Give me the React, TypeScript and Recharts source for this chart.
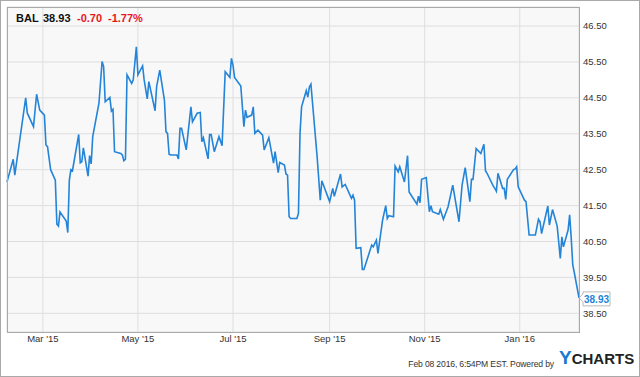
import React from "react";
import {
  LineChart,
  Line,
  XAxis,
  YAxis,
  CartesianGrid,
  LabelList,
} from "recharts";

// BAL daily close (Feb 2015 - Feb 2016)
const dates = [
  "2015-02-06", "2015-02-10", "2015-02-11", "2015-02-18", "2015-02-19", "2015-02-23",
  "2015-02-25", "2015-02-27", "2015-03-02", "2015-03-03", "2015-03-04", "2015-03-06",
  "2015-03-09", "2015-03-10", "2015-03-11", "2015-03-12", "2015-03-16", "2015-03-17",
  "2015-03-18", "2015-03-19", "2015-03-20", "2015-03-24", "2015-03-25", "2015-03-26",
  "2015-03-27", "2015-03-30", "2015-03-31", "2015-04-01", "2015-04-02", "2015-04-06",
  "2015-04-08", "2015-04-09", "2015-04-10", "2015-04-13", "2015-04-14", "2015-04-15",
  "2015-04-16", "2015-04-20", "2015-04-21", "2015-04-22", "2015-04-23", "2015-04-24",
  "2015-04-27", "2015-04-28", "2015-04-30", "2015-05-01", "2015-05-04", "2015-05-05",
  "2015-05-07", "2015-05-08", "2015-05-12", "2015-05-13", "2015-05-15", "2015-05-18",
  "2015-05-19", "2015-05-20", "2015-05-21", "2015-05-22", "2015-05-26", "2015-05-27",
  "2015-05-28", "2015-05-29", "2015-06-01", "2015-06-04", "2015-06-05", "2015-06-08",
  "2015-06-10", "2015-06-11", "2015-06-12", "2015-06-15", "2015-06-16", "2015-06-17",
  "2015-06-19", "2015-06-22", "2015-06-24", "2015-06-26", "2015-06-29", "2015-06-30",
  "2015-07-01", "2015-07-02", "2015-07-06", "2015-07-08", "2015-07-09", "2015-07-10",
  "2015-07-13", "2015-07-14", "2015-07-15", "2015-07-17", "2015-07-20", "2015-07-21",
  "2015-07-24", "2015-07-27", "2015-07-28", "2015-07-30", "2015-07-31", "2015-08-03",
  "2015-08-04", "2015-08-05", "2015-08-06", "2015-08-07", "2015-08-11", "2015-08-12",
  "2015-08-13", "2015-08-14", "2015-08-17", "2015-08-18", "2015-08-19", "2015-08-20",
  "2015-08-24", "2015-08-26", "2015-08-27", "2015-09-01", "2015-09-03", "2015-09-04",
  "2015-09-08", "2015-09-09", "2015-09-11", "2015-09-15", "2015-09-16", "2015-09-17",
  "2015-09-18", "2015-09-21", "2015-09-22", "2015-09-23", "2015-09-28", "2015-09-29",
  "2015-10-01", "2015-10-02", "2015-10-05", "2015-10-07", "2015-10-08", "2015-10-09",
  "2015-10-12", "2015-10-13", "2015-10-15", "2015-10-16", "2015-10-19", "2015-10-21",
  "2015-10-22", "2015-10-27", "2015-10-28", "2015-10-29", "2015-10-30", "2015-11-02",
  "2015-11-04", "2015-11-05", "2015-11-06", "2015-11-10", "2015-11-11", "2015-11-13",
  "2015-11-16", "2015-11-19", "2015-11-23", "2015-11-25", "2015-11-27", "2015-11-30",
  "2015-12-01", "2015-12-02", "2015-12-04", "2015-12-07", "2015-12-09", "2015-12-10",
  "2015-12-11", "2015-12-15", "2015-12-16", "2015-12-17", "2015-12-18", "2015-12-21",
  "2015-12-22", "2015-12-23", "2015-12-24", "2015-12-28", "2015-12-29", "2015-12-30",
  "2015-12-31", "2016-01-04", "2016-01-05", "2016-01-07", "2016-01-11", "2016-01-13",
  "2016-01-14", "2016-01-15", "2016-01-19", "2016-01-20", "2016-01-22", "2016-01-25",
  "2016-01-27", "2016-01-28", "2016-01-29", "2016-02-01", "2016-02-02", "2016-02-03",
  "2016-02-04", "2016-02-05", "2016-02-08",
];

const closes = [
  42.16, 42.79, 42.35, 44.5, 44.08, 43.7,
  44.6, 44.16, 44.02, 43.19, 43.14, 42.5,
  42.21, 40.98, 40.93, 41.32, 41.07, 40.75,
  42.21, 42.5, 42.47, 43.48, 42.69, 42.72,
  43.11, 42.32, 42.89, 42.66, 43.42, 44.35,
  45.51, 45.37, 44.39, 44.51, 44.13, 44.18,
  43.0, 42.95, 42.91, 42.75, 42.79, 45.14,
  44.9, 45.0, 45.92, 45.14, 45.39, 45.0,
  44.47, 44.95, 44.14, 44.81, 45.27, 44.44,
  43.56, 43.51, 42.93, 42.91, 42.91, 42.8,
  43.65, 43.65, 43.05, 44.25, 43.83, 44.07,
  44.09, 43.28, 43.39, 42.8, 43.48, 43.48,
  43.0, 43.42, 43.17, 45.23, 45.07, 45.6,
  45.41, 45.07, 44.83, 43.7, 44.16, 43.96,
  44.02, 44.25, 43.51, 43.6, 43.46, 43.05,
  43.39, 42.68, 43.0, 42.42, 42.7, 42.63,
  42.38, 42.35, 41.19, 41.14, 41.14, 41.28,
  43.51, 44.25, 44.7, 44.52, 44.8, 44.88,
  42.85, 41.65, 42.19, 41.61, 41.98, 41.76,
  42.38, 42.02, 42.09, 41.7, 41.79, 41.65,
  40.31, 40.33, 39.72, 39.72, 40.4, 40.35,
  40.54, 40.17, 41.1, 41.5, 41.14, 41.22,
  41.19, 42.6, 42.44, 42.58, 42.16, 42.89,
  41.88, 41.54, 41.76, 41.58, 42.23, 42.28,
  41.33, 41.5, 41.33, 41.26, 41.39, 41.12,
  41.47, 42.07, 41.05, 42.08, 42.56, 41.61,
  42.23, 42.23, 43.09, 42.95, 43.21, 42.47,
  42.4, 42.04, 41.98, 41.9, 42.4, 41.98,
  41.98, 41.67, 42.23, 42.5, 42.52, 42.58,
  42.02, 41.65, 41.61, 40.68, 40.68, 41.12,
  41.05, 40.72, 41.49, 40.96, 41.39, 40.93,
  40.03, 40.63, 40.35, 40.82, 41.24, 40.6,
  39.85, 39.63, 38.93,
];

const monthTicks = ["2015-03-01", "2015-05-01", "2015-07-01", "2015-09-01", "2015-11-01", "2016-01-01"];
const priceTicks = [38.5, 39.5, 40.5, 41.5, 42.5, 43.5, 44.5, 45.5, 46.5];
const monthNames = ["Jan", "Feb", "Mar", "Apr", "May", "Jun", "Jul", "Aug", "Sep", "Oct", "Nov", "Dec"];

const data = dates.map((d, i) => ({ t: Date.parse(d), close: closes[i] }));
const FONT = '"Liberation Sans", Arial, sans-serif';
const BLUE = "#2384d8";

function fmtMonth(t: number) {
  const d = new Date(t);
  return `${monthNames[d.getUTCMonth()]} '${String(d.getUTCFullYear()).slice(2)}`;
}

function EndLabel(props: any) {
  const { x, y, value, index } = props;
  if (index !== data.length - 1) return null;
  const bx = x + 4;
  return (
    <g>
      <path
        d={`M${x},${y} L${bx},${y - 4} L${bx},${y - 6} L${bx + 27},${y - 6} L${bx + 27},${y + 8} L${bx},${y + 8} L${bx},${y + 4} Z`}
        fill="#fff"
        stroke="#b8b8b8"
      />
      <text x={bx + 13.5} y={y + 5} textAnchor="middle" fill={BLUE} fontSize={10} fontWeight="bold" fontFamily={FONT}>
        {Number(value).toFixed(2)}
      </text>
    </g>
  );
}

export default function App() {
  return (
    <div style={{ position: "absolute", left: 0, top: 0, width: 640, height: 377, background: "#fff", fontFamily: FONT }}>
      <LineChart width={640} height={377} data={data} margin={{ top: 7, right: 0, bottom: 0, left: 7 }}>
        <CartesianGrid stroke="#dedede" fill="#f8f8f8" />
        <XAxis
          dataKey="t"
          type="number"
          scale="time"
          domain={[Date.parse("2015-02-06"), Date.parse("2016-02-08")]}
          ticks={monthTicks.map((m) => Date.parse(m))}
          tickFormatter={fmtMonth}
          axisLine={false}
          tickLine={false}
          tickSize={0}
          tickMargin={3}
          height={45}
          tick={{ fill: "#333", fontSize: 9.5, fontFamily: FONT }}
        />
        <YAxis
          orientation="right"
          type="number"
          domain={[37.98, 47.03]}
          ticks={priceTicks}
          tickFormatter={(v: number) => v.toFixed(2)}
          axisLine={false}
          tickLine={false}
          tickSize={0}
          tickMargin={4}
          width={61}
          tick={{ fill: "#333", fontSize: 9.5, fontFamily: FONT, textAnchor: "start" }}
        />
        <Line
          type="linear"
          dataKey="close"
          stroke={BLUE}
          strokeWidth={1.6}
          dot={false}
          isAnimationActive={false}
        >
          <LabelList dataKey="close" content={EndLabel} />
        </Line>
      </LineChart>

      {/* plot frame and outer frame */}
      <div style={{ position: "absolute", left: 7, top: 7, width: 573, height: 326, border: "1px solid #a9a9a9", boxSizing: "border-box", pointerEvents: "none" }} />
      <div style={{ position: "absolute", left: 0, top: 0, width: 640, height: 377, border: "1px solid #a9a9a9", boxSizing: "border-box", pointerEvents: "none" }} />

      <div style={{ position: "absolute", left: 0, top: 13, fontSize: 11, lineHeight: "11px", fontWeight: "bold", whiteSpace: "nowrap" }}>
        <span style={{ position: "absolute", left: 16, color: "#111" }}>BAL</span>
        <span style={{ position: "absolute", left: 43, color: "#111" }}>38.93</span>
        <span style={{ position: "absolute", left: 77, color: "#e8141b" }}>-0.70</span>
        <span style={{ position: "absolute", left: 108, color: "#e8141b" }}>-1.77%</span>
      </div>

      <div style={{ position: "absolute", right: 86, top: 359, fontSize: 8.6, lineHeight: "10px", color: "#333", whiteSpace: "nowrap", letterSpacing: -0.15 }}>
        Feb 08 2016, 6:54PM EST. Powered by
      </div>
      <div style={{ position: "absolute", left: 559, top: 349, lineHeight: "18px", fontWeight: "bold", whiteSpace: "nowrap" }}>
        <span style={{ color: "#1b78d4", fontSize: 19 }}>Y</span>
        <span style={{ color: "#222", fontSize: 15 }}>CHARTS</span>
      </div>
    </div>
  );
}
